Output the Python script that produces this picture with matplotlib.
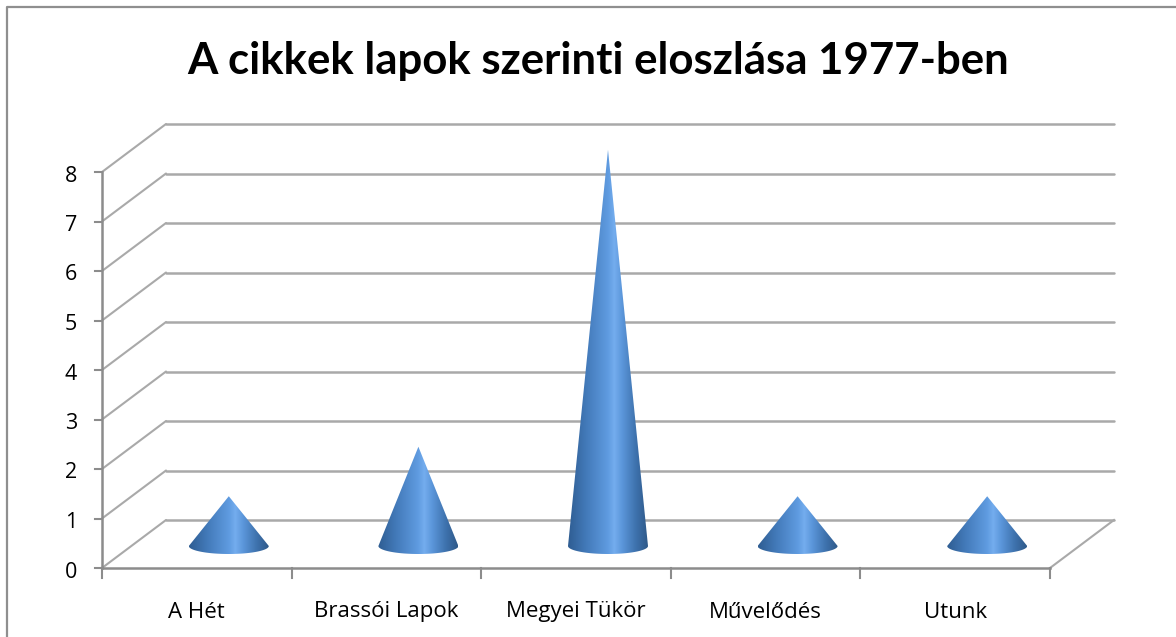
import numpy as np
import matplotlib
matplotlib.use("Agg")
import matplotlib.pyplot as plt
from matplotlib.path import Path
from matplotlib.patches import PathPatch
from matplotlib.colors import LinearSegmentedColormap

categories = ["A Hét", "Brassói Lapok", "Megyei Tükör", "Művelődés", "Utunk"]
values = [1, 2, 8, 1, 1]
y_ticks = list(range(0, 9))
title = "A cikkek lapok szerinti eloszlása 1977-ben"

W, H = 1176, 637
fig = plt.figure(figsize=(W / 100, H / 100), dpi=100)
plt.rcParams["font.family"] = ["Lato", "DejaVu Sans"]
ax = fig.add_axes([0, 0, 1, 1])
ax.axis("off")

# axes calibration: x=0 -> 102 px, x=5 -> 1050 px; y=0 -> 568 px, y=8 -> 172 px
ux = (1050 - 102) / 5
uy = (568 - 172) / 8

dx, dy = 64 / ux, 48 / uy  # depth offset in data units
grid_c = "#a9a9a9"
axis_c = "#8c8c8c"
lw = 1.8
label_font = ["Open Sans", "DejaVu Sans"]

# walls: gridlines
for v in y_ticks:
    ax.plot([0, dx], [v, v + dy], color=grid_c, lw=1.5, solid_capstyle="round", zorder=1)
    ax.plot([dx, 5 + dx], [v + dy, v + dy], color=grid_c, lw=lw, solid_capstyle="round", zorder=1)
ax.plot([5, 5 + dx], [0, dy], color=grid_c, lw=1.5, zorder=1)
ax.plot([0, 5], [0, 0], color=axis_c, lw=lw, zorder=2)
ax.plot([0, 0], [0, 8], color=axis_c, lw=lw, zorder=2)

# ticks
for v in y_ticks:
    ax.plot([-7 / ux, 0], [v, v], color=axis_c, lw=1.5, zorder=2)
    ax.text(-31 / ux, v - 4 / uy, str(v), ha="center", va="center", fontsize=15.5,
            color="black", family=label_font)
for i in range(len(categories) + 1):
    ax.plot([i, i], [0, -10 / uy], color=axis_c, lw=1.5, zorder=2)

# cones
cmap = LinearSegmentedColormap.from_list(
    "cone",
    [(0, "#2f5d92"), (0.22, "#4279b8"), (0.5, "#5f9be0"), (0.58, "#74adee"),
     (0.68, "#5b96da"), (0.85, "#3e72ad"), (1, "#2f5a8a")],
)
grad = np.linspace(0, 1, 256).reshape(1, -1)
half = 40 / ux
base = 22 / uy      # base centre height above the front floor edge
eh = 8 / uy
shift = 0.45        # depth lift of the apex relative to the front plane
for i, (c, v) in enumerate(zip(categories, values)):
    xc = i + 0.5 + 32 / ux
    t = np.linspace(np.pi, 2 * np.pi, 60)
    xs = np.concatenate([[xc], xc + half * np.cos(t)])
    ys = np.concatenate([[v + shift], base + eh * np.sin(t)])
    verts = np.column_stack([xs, ys])
    verts = np.vstack([verts, verts[0]])
    codes = [Path.MOVETO] + [Path.LINETO] * (len(verts) - 2) + [Path.CLOSEPOLY]
    patch = PathPatch(Path(verts, codes), transform=ax.transData, fc="none", ec="none")
    ax.add_patch(patch)
    im = ax.imshow(grad, cmap=cmap, extent=[xc - half, xc + half, base - eh, v + shift],
                   aspect="auto", zorder=4, interpolation="bilinear")
    im.set_clip_path(patch)
    ax.text(i + 0.5, -44 / uy, c, ha="center", va="center", fontsize=16,
            color="black", family=label_font)

ax.set_xlim((0 - 102) / ux, (W - 102) / ux)
ax.set_ylim((568 - H) / uy, 568 / uy)

# chart frame (left and top sides)
fx = lambda p: (p - 102) / ux
fy = lambda p: (568 - p) / uy
ax.plot([fx(7), fx(7), fx(W)], [fy(H), fy(6.5), fy(6.5)], color="#8f8f8f", lw=1.6, zorder=0)

ax.text(fx(598), fy(61), title, ha="center", va="center", fontsize=31.5,
        fontweight="bold", color="black")

fig.savefig("out.png", dpi=100)
